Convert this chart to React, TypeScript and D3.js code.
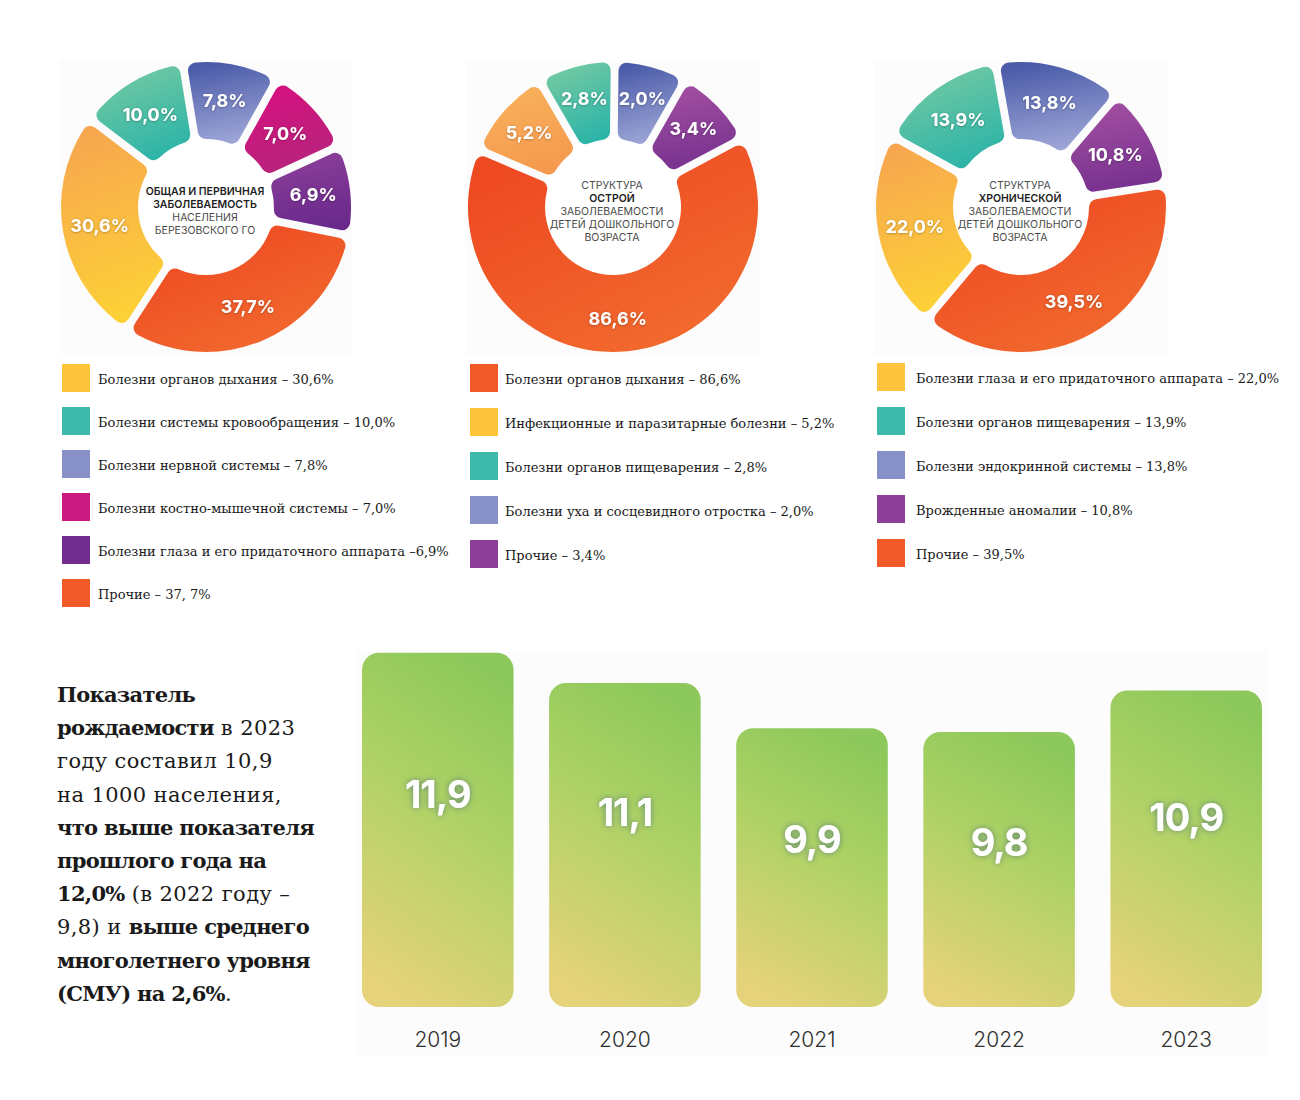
import React from 'react';
import * as d3 from 'd3';

// --- donut 1: общая и первичная заболеваемость
const generalValues = [30.6, 10.0, 7.8, 7.0, 6.9, 37.7];
const generalColors = ['yellow', 'teal', 'blue', 'pink', 'purple', 'orange'];
const generalSwatches = ['#fec53c', '#3dbaa9', '#8790c7', '#cb1a7f', '#722e8e', '#f15a29'];
const generalLegend = [
  'Болезни органов дыхания – 30,6%',
  'Болезни системы кровообращения – 10,0%',
  'Болезни нервной системы – 7,8%',
  'Болезни костно-мышечной системы – 7,0%',
  'Болезни глаза и его придаточного аппарата –6,9%',
  'Прочие – 37, 7%',
];
const generalCenter = ['ОБЩАЯ И ПЕРВИЧНАЯ', 'ЗАБОЛЕВАЕМОСТЬ', 'НАСЕЛЕНИЯ', 'БЕРЕЗОВСКОГО ГО'];
const generalBold = [true, true, false, false];

// --- donut 2: острая заболеваемость детей
const acuteValues = [86.6, 5.2, 2.8, 2.0, 3.4];
const acuteColors = ['orange', 'lightorange', 'teal', 'blue', 'violet'];
const acuteSwatches = ['#f15a29', '#fec53c', '#3dbaa9', '#8790c7', '#8b3f96'];
const acuteLegend = [
  'Болезни органов дыхания – 86,6%',
  'Инфекционные и паразитарные болезни – 5,2%',
  'Болезни органов пищеварения – 2,8%',
  'Болезни уха и сосцевидного отростка – 2,0%',
  'Прочие – 3,4%',
];
const acuteCenter = ['СТРУКТУРА', 'ОСТРОЙ', 'ЗАБОЛЕВАЕМОСТИ', 'ДЕТЕЙ ДОШКОЛЬНОГО', 'ВОЗРАСТА'];
const acuteBold = [false, true, false, false, false];

// --- donut 3: хроническая заболеваемость детей
const chronicValues = [22.0, 13.9, 13.8, 10.8, 39.5];
const chronicColors = ['yellow', 'teal', 'blue', 'violet', 'orange'];
const chronicSwatches = ['#fec53c', '#3dbaa9', '#8790c7', '#8b3f96', '#f15a29'];
const chronicLegend = [
  'Болезни глаза и его придаточного аппарата – 22,0%',
  'Болезни органов пищеварения – 13,9%',
  'Болезни эндокринной системы – 13,8%',
  'Врожденные аномалии – 10,8%',
  'Прочие – 39,5%',
];
const chronicCenter = ['СТРУКТУРА', 'ХРОНИЧЕСКОЙ', 'ЗАБОЛЕВАЕМОСТИ', 'ДЕТЕЙ ДОШКОЛЬНОГО', 'ВОЗРАСТА'];
const chronicBold = [false, true, false, false, false];

// --- рождаемость
const years = ['2019', '2020', '2021', '2022', '2023'];
const birthRate = [11.9, 11.1, 9.9, 9.8, 10.9];

const gradients: Record<string, [string, string, number, number, number, number]> = {
  yellow: ['#f7a64f', '#fdd136', 0.3, 0, 0.5, 1],
  teal: ['#76caa2', '#2db4a8', 0.2, 0, 0.6, 1],
  blue: ['#4b5ba9', '#a0a8d8', 0.4, 0, 0.6, 1],
  pink: ['#d6117f', '#b5247c', 0.3, 0, 0.6, 1],
  purple: ['#8c3f99', '#69298c', 0.3, 0, 0.5, 1],
  violet: ['#a24fa1', '#77318f', 0.3, 0, 0.5, 1],
  orange: ['#ee4a22', '#f26c2f', 0.2, 0.1, 0.8, 1],
  lightorange: ['#f9b15b', '#f5994e', 0.3, 0, 0.6, 1],
};

const fmt = (v: number) => v.toFixed(1).replace('.', ',');
const deg = Math.PI / 180;

const SANS = 'Inter, "Noto Sans", sans-serif';
const SERIF = '"DejaVu Serif", serif';

interface DonutProps {
  cx: number;
  cy: number;
  values: number[];
  colors: string[];
  start: number;
  floor: number; // small slices get a minimum share, like in the original layout
  labelR: number;
  center: string[];
  bold: boolean[];
}

const Donut: React.FC<DonutProps> = ({ cx, cy, values, colors, start, floor, labelR, center, bold }) => {
  const r0 = 68;
  const r1 = 145;
  const weight = d3.scaleLinear().domain([0, 100]).range([floor, 100]);
  const pie = d3
    .pie<number>()
    .sort(null)
    .value(v => weight(v))
    .startAngle(start * deg)
    .endAngle(start * deg + 2 * Math.PI)
    .padAngle(0.06);
  const arc = d3
    .arc<d3.PieArcDatum<number>>()
    .innerRadius(r0)
    .outerRadius(r1)
    .cornerRadius(8)
    .padRadius(130);
  const labelArc = d3
    .arc<d3.PieArcDatum<number>>()
    .innerRadius(labelR)
    .outerRadius(labelR);
  const arcs = pie(values);
  const lh = 13;
  const top = cy + 4 - ((center.length - 1) * lh) / 2;

  return (
    <g>
      <rect x={cx - r1 - 2} y={cy - r1 - 2} width={2 * r1 + 4} height={2 * r1 + 4} fill="#fcfcfc" />
      <circle cx={cx} cy={cy} r={r0 + 4} fill="#fff" />
      <g transform={`translate(${cx},${cy})`}>
        {arcs.map((a, i) => (
          <path key={i} d={arc(a) || ''} fill={`url(#g-${colors[i]})`} />
        ))}
        {arcs.map((a, i) => {
          const [x, y] = labelArc.centroid(a);
          return (
            <text
              key={'t' + i}
              x={x}
              y={y}
              dy="0.36em"
              textAnchor="middle"
              fill="#fff"
              fontFamily={SANS}
              fontWeight={700}
              fontSize={18}
              filter="url(#lblShadow)"
            >
              {fmt(values[i])}%
            </text>
          );
        })}
      </g>
      {center.map((s, i) => (
        <text
          key={'c' + i}
          x={cx - 1}
          y={top + i * lh}
          dy="0.36em"
          textAnchor="middle"
          fontFamily={SANS}
          fontSize={10.5}
          fontWeight={bold[i] ? 600 : 400}
          fill={bold[i] ? '#1e1e1e' : '#4a4a4a'}
        >
          {s}
        </text>
      ))}
    </g>
  );
};

interface LegendProps {
  x: number;
  y: number;
  step: number;
  gap: number;
  labels: string[];
  swatches: string[];
}

const Legend: React.FC<LegendProps> = ({ x, y, step, gap, labels, swatches }) => (
  <g>
    {labels.map((l, i) => (
      <g key={i} transform={`translate(${x},${y + i * step})`}>
        <rect x={0} y={-14} width={28} height={28} fill={swatches[i]} />
        <text x={gap} y={1} dy="0.36em" fontFamily={SERIF} fontSize={13} fill="#1a1a1a">
          {l}
        </text>
      </g>
    ))}
  </g>
);

// text block lines: [text, bold]
const paragraph: [string, boolean][][] = [
  [['Показатель', true]],
  [['рождаемости', true], [' в 2023', false]],
  [['году составил 10,9', false]],
  [['на 1000 населения,', false]],
  [['что выше показателя', true]],
  [['прошлого года на', true]],
  [['12,0%', true], [' (в 2022 году –', false]],
  [['9,8) и ', false], ['выше среднего', true]],
  [['многолетнего уровня', true]],
  [['(СМУ) на 2,6%', true], ['.', false]],
];

const BarChart: React.FC = () => {
  const bottom = 1007;
  const x = d3.scaleBand<string>().domain(years).range([362, 1262]).paddingInner(0.19).paddingOuter(0);
  const y = d3.scaleLinear().domain([2.5, 12]).range([bottom, bottom - 358]);
  return (
    <g>
      <rect x={356} y={652} width={912} height={404} fill="#fcfcfc" />
      {years.map((yr, i) => {
        const v = birthRate[i];
        const x0 = x(yr)!;
        const top = y(v);
        const h = bottom - top;
        return (
          <g key={yr}>
            <rect x={x0} y={top} width={x.bandwidth()} height={h} rx={17} fill="url(#barGrad)" />
            <text
              x={x0 + x.bandwidth() / 2}
              y={top + h * 0.4}
              dy="0.36em"
              textAnchor="middle"
              fill="#fff"
              fontFamily={SANS}
              fontWeight={700}
              fontSize={38}
              letterSpacing={-1}
              filter="url(#barGlow)"
            >
              {fmt(v)}
            </text>
            <text
              x={x0 + x.bandwidth() / 2}
              y={1039}
              dy="0.36em"
              textAnchor="middle"
              fill="#2e2e2e"
              fontFamily={SANS}
              fontWeight={300}
              fontSize={21}
            >
              {yr}
            </text>
          </g>
        );
      })}
    </g>
  );
};

export default function App() {
  return (
    <svg
      width={1300}
      height={1100}
      viewBox="0 0 1300 1100"
      style={{ position: 'absolute', left: 0, top: 0, display: 'block', background: '#fff' }}
    >
      <defs>
        {Object.entries(gradients).map(([k, [c0, c1, x1, y1, x2, y2]]) => (
          <linearGradient key={k} id={`g-${k}`} x1={x1} y1={y1} x2={x2} y2={y2}>
            <stop offset="0" stopColor={c0} />
            <stop offset="1" stopColor={c1} />
          </linearGradient>
        ))}
        <linearGradient id="barGrad" x1="0.65" y1="0" x2="0.35" y2="1">
          <stop offset="0" stopColor="#8cc85b" />
          <stop offset="0.45" stopColor="#b0d265" />
          <stop offset="1" stopColor="#e6d27b" />
        </linearGradient>
        <filter id="lblShadow" x="-30%" y="-50%" width="160%" height="200%">
          <feDropShadow dx="0" dy="0.5" stdDeviation="1.3" floodColor="#000" floodOpacity="0.35" />
        </filter>
        <filter id="barGlow" x="-30%" y="-50%" width="160%" height="200%">
          <feDropShadow dx="0" dy="0" stdDeviation="3" floodColor="#4d7080" floodOpacity="0.75" />
        </filter>
      </defs>

      <Donut cx={206} cy={207} values={generalValues} colors={generalColors} start={-147} floor={6} labelR={108} center={generalCenter} bold={generalBold} />
      <Donut cx={613} cy={207} values={acuteValues} colors={acuteColors} start={62} floor={8} labelR={112} center={acuteCenter} bold={acuteBold} />
      <Donut cx={1021} cy={207} values={chronicValues} colors={chronicColors} start={-140} floor={0} labelR={108} center={chronicCenter} bold={chronicBold} />

      <Legend x={62} y={378} step={43} gap={36} labels={generalLegend} swatches={generalSwatches} />
      <Legend x={470} y={378} step={44} gap={35} labels={acuteLegend} swatches={acuteSwatches} />
      <Legend x={877} y={377} step={44} gap={39} labels={chronicLegend} swatches={chronicSwatches} />

      <g fontFamily={SERIF} fontSize={21} fill="#1a1a1a">
        {paragraph.map((line, i) => (
          <text key={i} x={57} y={702 + i * 33.2}>
            {line.map(([s, b], j) => (
              <tspan key={j} fontWeight={b ? 700 : 400} letterSpacing={b ? -0.7 : 0.4}>
                {s}
              </tspan>
            ))}
          </text>
        ))}
      </g>

      <BarChart />
    </svg>
  );
}
